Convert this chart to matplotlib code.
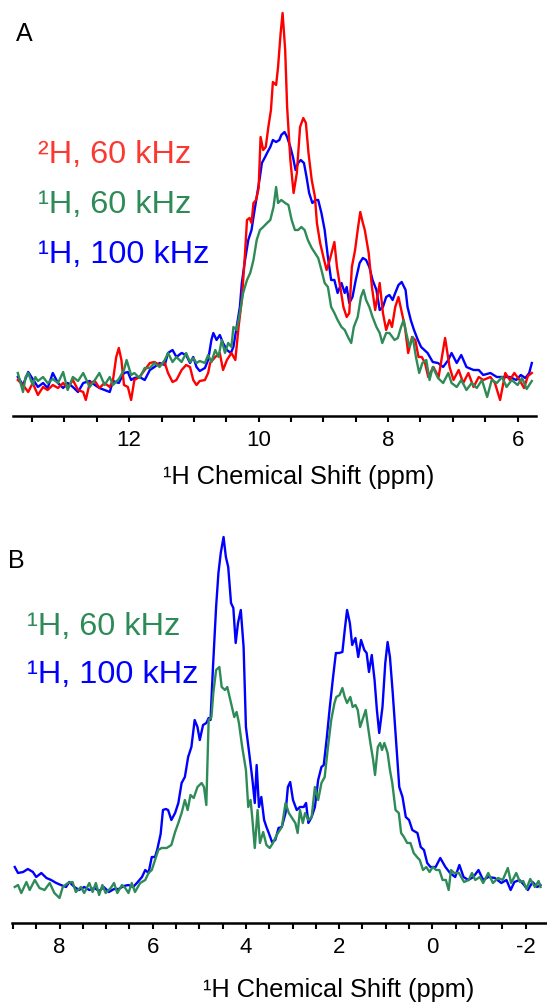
import numpy as np
import matplotlib.pyplot as plt
from matplotlib.ticker import MultipleLocator

plt.rcParams["font.family"] = ["Liberation Sans", "DejaVu Sans"]

# ==================== DATA ====================
# panel A: amide region, (ppm, intensity)
red_a_ppm = [13.72, 13.64, 13.56, 13.49, 13.41, 13.33, 13.26, 13.18, 13.10, 13.02, 12.95, 12.87, 12.79, 12.71, 12.67,
             12.61, 12.53, 12.46, 12.38, 12.30, 12.25, 12.20, 12.16, 12.12, 12.08, 12.02, 11.97, 11.92, 11.84, 11.76,
             11.68, 11.61, 11.53, 11.45, 11.40, 11.33, 11.27, 11.19, 11.12, 11.06, 11.01, 10.96, 10.91, 10.83, 10.78,
             10.75, 10.67, 10.60, 10.55, 10.49, 10.42, 10.36, 10.31, 10.26, 10.21, 10.18, 10.14, 10.11, 10.08, 10.04,
             10.00, 9.97, 9.93, 9.89, 9.85, 9.81, 9.78, 9.73, 9.70, 9.66, 9.63, 9.59, 9.56, 9.51, 9.46,
             9.41, 9.36, 9.31, 9.27, 9.23, 9.18, 9.13, 9.10, 9.05, 9.00, 8.95, 8.91, 8.83, 8.79, 8.74,
             8.69, 8.64, 8.60, 8.56, 8.51, 8.47, 8.43, 8.39, 8.36, 8.30, 8.25, 8.20, 8.13, 8.08, 8.03,
             7.98, 7.94, 7.89, 7.84, 7.79, 7.74, 7.69, 7.63, 7.58, 7.53, 7.48, 7.43, 7.38, 7.30, 7.22,
             7.12, 7.05, 6.99, 6.91, 6.84, 6.76, 6.68, 6.60, 6.53, 6.42, 6.35, 6.27, 6.19, 6.12, 6.05,
             5.97, 5.90, 5.84, 5.78]
red_a_int = [3, -2, -9, 0, -12, -4, -7, -2, -5, 0, -5, 3, -7, -9, -17,
             0, 2, -5, 0, -4, 3, 26, 35, 23, -2, -4, -17, 3, 6, 13,
             20, 21, 18, 20, 10, 1, 3, 13, 18, 16, 3, -2, 2, 3, 10,
             20, 26, 30, 13, 23, 30, 23, 56, 83, 130, 163, 165, 160, 180, 183,
             195, 246, 233, 236, 256, 273, 301, 298, 316, 350, 370, 333, 276, 223, 190,
             210, 256, 265, 260, 230, 203, 186, 160, 140, 126, 113, 121, 141, 116, 96,
             76, 66, 70, 116, 133, 153, 171, 160, 153, 130, 96, 73, 100, 70, 53,
             63, 56, 76, 86, 71, 56, 30, 46, 43, 26, 26, 20, 6, 16, 6,
             45, 16, 3, 13, 0, 10, -4, 6, 3, 6, 0, -17, 10, 3, 10,
             3, -5, 7, 10]

blue_a_ppm = [13.72, 13.64, 13.56, 13.49, 13.41, 13.33, 13.26, 13.18, 13.10, 13.02, 12.95, 12.87, 12.79, 12.71, 12.61,
              12.53, 12.46, 12.38, 12.30, 12.25, 12.16, 12.08, 12.02, 11.97, 11.92, 11.84, 11.76, 11.68, 11.61, 11.53,
              11.45, 11.40, 11.33, 11.27, 11.19, 11.12, 11.06, 11.01, 10.96, 10.91, 10.83, 10.78, 10.73, 10.70, 10.65,
              10.60, 10.55, 10.49, 10.43, 10.39, 10.34, 10.29, 10.26, 10.21, 10.16, 10.11, 10.07, 10.03, 9.98, 9.95,
              9.90, 9.87, 9.82, 9.78, 9.73, 9.68, 9.65, 9.60, 9.56, 9.51, 9.47, 9.43, 9.39, 9.35, 9.30,
              9.26, 9.22, 9.17, 9.12, 9.08, 9.03, 8.98, 8.93, 8.88, 8.83, 8.78, 8.72, 8.67, 8.64, 8.60,
              8.55, 8.50, 8.44, 8.39, 8.34, 8.29, 8.24, 8.18, 8.13, 8.08, 8.03, 7.98, 7.93, 7.89, 7.84,
              7.79, 7.73, 7.70, 7.65, 7.60, 7.54, 7.49, 7.44, 7.39, 7.31, 7.23, 7.15, 7.07, 7.02, 6.94,
              6.87, 6.79, 6.68, 6.60, 6.53, 6.42, 6.32, 6.22, 6.12, 6.02, 5.95, 5.88, 5.82, 5.78]
blue_a_int = [6, -2, 11, 4, -4, 0, -5, 10, 0, -5, 0, -4, -9, 0, 2,
              -2, -5, -7, -9, 2, 0, 10, 11, 3, 5, 6, 3, 13, 16, 20,
              18, 30, 33, 26, 30, 28, 20, 26, 16, 12, 15, 23, 43, 50, 43,
              48, 40, 33, 30, 36, 56, 76, 100, 123, 143, 153, 170, 186, 206, 220,
              226, 230, 236, 243, 241, 243, 248, 251, 246, 236, 226, 213, 220, 223, 220,
              206, 190, 180, 183, 183, 170, 153, 126, 103, 103, 90, 100, 90, 96, 80,
              86, 103, 120, 125, 123, 116, 103, 93, 73, 76, 86, 88, 83, 90, 98,
              101, 93, 76, 63, 53, 43, 36, 33, 30, 21, 20, 16, 23, 30, 20,
              28, 16, 13, 13, 8, 10, 6, 6, 6, 3, 8, 5, 10, 20]

green_a_ppm = [13.72, 13.64, 13.60, 13.56, 13.49, 13.45, 13.41, 13.33, 13.26, 13.18, 13.10, 13.02, 12.95, 12.87, 12.79,
               12.71, 12.61, 12.53, 12.46, 12.38, 12.30, 12.25, 12.16, 12.08, 12.04, 11.97, 11.92, 11.84, 11.76, 11.68,
               11.61, 11.53, 11.45, 11.40, 11.33, 11.27, 11.19, 11.12, 11.06, 11.01, 10.96, 10.91, 10.83, 10.78, 10.73,
               10.67, 10.62, 10.57, 10.52, 10.47, 10.42, 10.39, 10.34, 10.29, 10.24, 10.18, 10.13, 10.08, 10.03, 9.98,
               9.93, 9.87, 9.82, 9.77, 9.73, 9.70, 9.65, 9.59, 9.54, 9.49, 9.44, 9.39, 9.34, 9.29, 9.24,
               9.18, 9.13, 9.08, 9.03, 8.98, 8.93, 8.88, 8.83, 8.78, 8.72, 8.67, 8.62, 8.57, 8.53, 8.47,
               8.42, 8.38, 8.34, 8.29, 8.24, 8.18, 8.13, 8.09, 8.03, 7.98, 7.90, 7.85, 7.80, 7.76, 7.72,
               7.67, 7.62, 7.57, 7.52, 7.47, 7.41, 7.36, 7.31, 7.23, 7.15, 7.07, 7.02, 6.94, 6.87, 6.79,
               6.71, 6.63, 6.55, 6.47, 6.40, 6.32, 6.24, 6.17, 6.09, 6.00, 5.93, 5.86, 5.78]
green_a_int = [10, -9, 6, 10, -2, 6, 2, 6, 0, 4, 0, 11, -7, 6, 2,
               10, -4, 3, 10, -2, 6, -2, 4, 13, 23, 8, 10, 5, 15, 15,
               20, 16, 23, 30, 21, 26, 21, 30, 21, 25, 20, 22, 20, 28, 21,
               33, 26, 43, 30, 40, 36, 56, 53, 70, 90, 103, 110, 123, 143, 153,
               156, 160, 163, 176, 196, 180, 183, 180, 178, 163, 153, 153, 156, 153, 143,
               135, 130, 125, 113, 100, 96, 76, 70, 63, 56, 53, 46, 40, 56, 66,
               86, 93, 83, 76, 66, 56, 50, 40, 50, 50, 43, 45, 56, 63, 50,
               36, 46, 26, 10, 20, 23, 3, 16, 5, 0, 10, 0, -4, 3, -7,
               0, -5, 3, -14, 3, 0, 6, -4, 3, -2, 5, -6, 2]

# panel B: aliphatic region
blue_b_ppm = [8.96, 8.89, 8.78, 8.68, 8.57, 8.50, 8.39, 8.28, 8.18, 8.07, 7.97, 7.86, 7.79, 7.68, 7.58,
              7.47, 7.36, 7.25, 7.15, 7.05, 6.94, 6.83, 6.73, 6.62, 6.52, 6.42, 6.34, 6.23, 6.16, 6.09,
              6.02, 5.95, 5.90, 5.83, 5.78, 5.72, 5.67, 5.60, 5.52, 5.45, 5.38, 5.31, 5.24, 5.17, 5.10,
              5.04, 4.99, 4.92, 4.85, 4.80, 4.76, 4.71, 4.64, 4.59, 4.54, 4.48, 4.43, 4.38, 4.32, 4.27,
              4.22, 4.17, 4.11, 4.05, 4.00, 3.93, 3.86, 3.81, 3.77, 3.72, 3.67, 3.61, 3.56, 3.51, 3.44,
              3.37, 3.30, 3.23, 3.15, 3.10, 3.05, 2.99, 2.91, 2.84, 2.76, 2.71, 2.66, 2.59, 2.52, 2.45,
              2.38, 2.33, 2.27, 2.20, 2.13, 2.07, 2.00, 1.93, 1.88, 1.83, 1.77, 1.72, 1.65, 1.59, 1.53,
              1.46, 1.41, 1.36, 1.30, 1.24, 1.19, 1.14, 1.07, 1.01, 0.96, 0.91, 0.85, 0.78, 0.71, 0.64,
              0.57, 0.50, 0.43, 0.32, 0.25, 0.18, 0.11, 0.04, -0.07, -0.17, -0.28, -0.38, -0.49, -0.58, -0.67,
              -0.77, -0.88, -0.99, -1.09, -1.20, -1.34, -1.48, -1.59, -1.68, -1.76, -1.87, -1.95, -2.05, -2.15, -2.25,
              -2.32]
blue_b_int = [20, 14, 15, 18, 15, 10, 14, 9, 7, 4, 2, 0, 5, 0, -3,
              0, -3, -1, -4, 0, -5, -2, -2, 1, 2, 0, 4, 10, 17, 14,
              30, 30, 38, 53, 77, 78, 77, 67, 74, 84, 104, 110, 130, 140, 167,
              160, 147, 162, 164, 169, 167, 217, 280, 314, 334, 350, 330, 320, 284, 279,
              244, 264, 277, 240, 160, 134, 107, 84, 122, 80, 90, 67, 60, 54, 45,
              47, 59, 60, 74, 100, 105, 87, 77, 80, 80, 84, 64, 70, 80, 107,
              120, 122, 147, 180, 210, 234, 234, 235, 257, 277, 264, 242, 249, 230, 247,
              237, 234, 215, 232, 207, 177, 154, 180, 224, 245, 230, 194, 147, 100, 90,
              70, 67, 57, 54, 40, 37, 24, 20, 20, 29, 20, 14, 10, 22, 10,
              7, 10, 17, 7, 10, 9, 4, 7, -3, 5, 7, 3, -3, 5, 0,
              2]

green_b_ppm = [8.96, 8.89, 8.82, 8.71, 8.64, 8.53, 8.43, 8.32, 8.21, 8.11, 8.00, 7.93, 7.82, 7.72, 7.65,
               7.54, 7.47, 7.36, 7.29, 7.22, 7.15, 7.08, 7.01, 6.90, 6.83, 6.76, 6.66, 6.59, 6.52, 6.45,
               6.38, 6.27, 6.16, 6.09, 6.02, 5.95, 5.88, 5.81, 5.70, 5.60, 5.52, 5.45, 5.38, 5.31, 5.25,
               5.19, 5.12, 5.04, 4.95, 4.90, 4.85, 4.80, 4.74, 4.70, 4.64, 4.57, 4.52, 4.45, 4.40, 4.32,
               4.25, 4.20, 4.15, 4.08, 4.00, 3.95, 3.90, 3.86, 3.81, 3.75, 3.70, 3.63, 3.56, 3.49, 3.42,
               3.34, 3.23, 3.15, 3.08, 3.01, 2.94, 2.89, 2.84, 2.78, 2.73, 2.66, 2.59, 2.52, 2.45, 2.38,
               2.31, 2.24, 2.17, 2.10, 2.06, 1.99, 1.93, 1.88, 1.83, 1.76, 1.71, 1.65, 1.60, 1.55, 1.48,
               1.43, 1.38, 1.33, 1.27, 1.23, 1.17, 1.12, 1.08, 1.03, 0.96, 0.91, 0.86, 0.79, 0.72, 0.67,
               0.61, 0.54, 0.47, 0.40, 0.33, 0.27, 0.20, 0.13, 0.06, -0.01, -0.08, -0.15, -0.22, -0.29, -0.35,
               -0.40, -0.47, -0.57, -0.68, -0.78, -0.85, -0.92, -1.02, -1.09, -1.20, -1.30, -1.41, -1.51, -1.62, -1.69,
               -1.80, -1.88, -1.95, -2.02, -2.10, -2.20, -2.28, -2.32]
green_b_int = [0, 2, -6, 5, -3, 7, -1, -3, 4, -6, -11, 0, 4, 5, -5,
               0, -6, 4, -5, 4, -8, 2, -6, -1, 4, -6, 2, -1, -6, 4,
               -5, 4, 7, 14, 17, 27, 37, 39, 39, 42, 55, 64, 74, 87, 77,
               92, 89, 100, 104, 100, 82, 167, 170, 194, 217, 220, 200, 197, 200, 184,
               170, 175, 164, 140, 117, 80, 87, 67, 39, 77, 44, 55, 42, 39, 44,
               52, 60, 84, 74, 69, 64, 54, 77, 64, 74, 67, 70, 100, 87, 104,
               110, 140, 167, 184, 190, 192, 199, 190, 184, 190, 180, 182, 177, 160, 170,
               177, 160, 144, 127, 112, 140, 144, 137, 144, 134, 117, 104, 77, 74, 54,
               50, 44, 44, 34, 30, 27, 17, 20, 15, 20, 17, 17, 7, 7, -3,
               17, 14, 14, 5, 7, 14, 7, 10, 4, 14, 4, 9, 7, 19, 4,
               14, 5, 6, -2, 8, 0, 6, 0]

labels_a = ["²H, 60 kHz", "¹H, 60 kHz", "¹H, 100 kHz"]
labels_b = ["¹H, 60 kHz", "¹H, 100 kHz"]
ticks_a = [12, 10, 8, 6]
ticks_b = [8, 6, 4, 2, 0, -2]
xlabel = "¹H Chemical Shift (ppm)"

RED = "#ff0000"
GREEN = "#2e8b57"
BLUE = "#0000ff"

# ==================== FIGURE ====================
W, H = 547, 1005
fig = plt.figure(figsize=(W / 100, H / 100), dpi=100)


def px_axes(left, top, right, bottom):
    return fig.add_axes([left / W, 1 - bottom / H, (right - left) / W, (bottom - top) / H])


def style_axis(ax, ticks):
    for s in ["left", "right", "top"]:
        ax.spines[s].set_visible(False)
    ax.spines["bottom"].set_linewidth(1.8)
    ax.set_yticks([])
    ax.set_xticks(ticks)
    ax.set_xticklabels([str(t) for t in ticks])
    ax.xaxis.set_minor_locator(MultipleLocator(0.5))
    ax.tick_params(axis="x", which="both", direction="out", length=4.5, width=1.5, labelsize=16, pad=5.5)
    ax.patch.set_visible(False)


def fig_text(x, y, s, **kw):
    fig.text(x / W, 1 - y / H, s, va="baseline", **kw)


lw = 1.7

# Panel A
axA = px_axes(13.3, 0, 535.7, 416)
axA.plot(blue_a_ppm, blue_a_int, color=BLUE, lw=lw)
axA.plot(red_a_ppm, red_a_int, color=RED, lw=lw)
axA.plot(green_a_ppm, green_a_int, color=GREEN, lw=lw)
axA.set_xlim(13.79, 5.72)
axA.set_ylim(-33, 383)
style_axis(axA, ticks_a)

fig_text(15.5, 40.7, "A", fontsize=18)
for lab, col, yb in zip(labels_a, ["#fa3a32", GREEN, BLUE], [163, 213, 263]):
    fig_text(38, yb, lab, color=col, fontsize=23.4)
fig_text(299, 484, xlabel, fontsize=18.3, ha="center")

# Panel B
axB = px_axes(11.5, 500, 547, 922.7)
axB.plot(blue_b_ppm, blue_b_int, color=BLUE, lw=lw)
axB.plot(green_b_ppm, green_b_int, color=GREEN, lw=lw)
axB.set_xlim(9.03, -2.46)
axB.set_ylim(-35.7, 387)
style_axis(axB, ticks_b)

fig_text(8.5, 568.3, "B", fontsize=18)
for lab, col, yb in zip(labels_b, [GREEN, BLUE], [635, 683.3]):
    fig_text(27, yb, lab, color=col, fontsize=23.4)
fig_text(339, 996.7, xlabel, fontsize=18.3, ha="center")

fig.savefig("out.png", dpi=100)
